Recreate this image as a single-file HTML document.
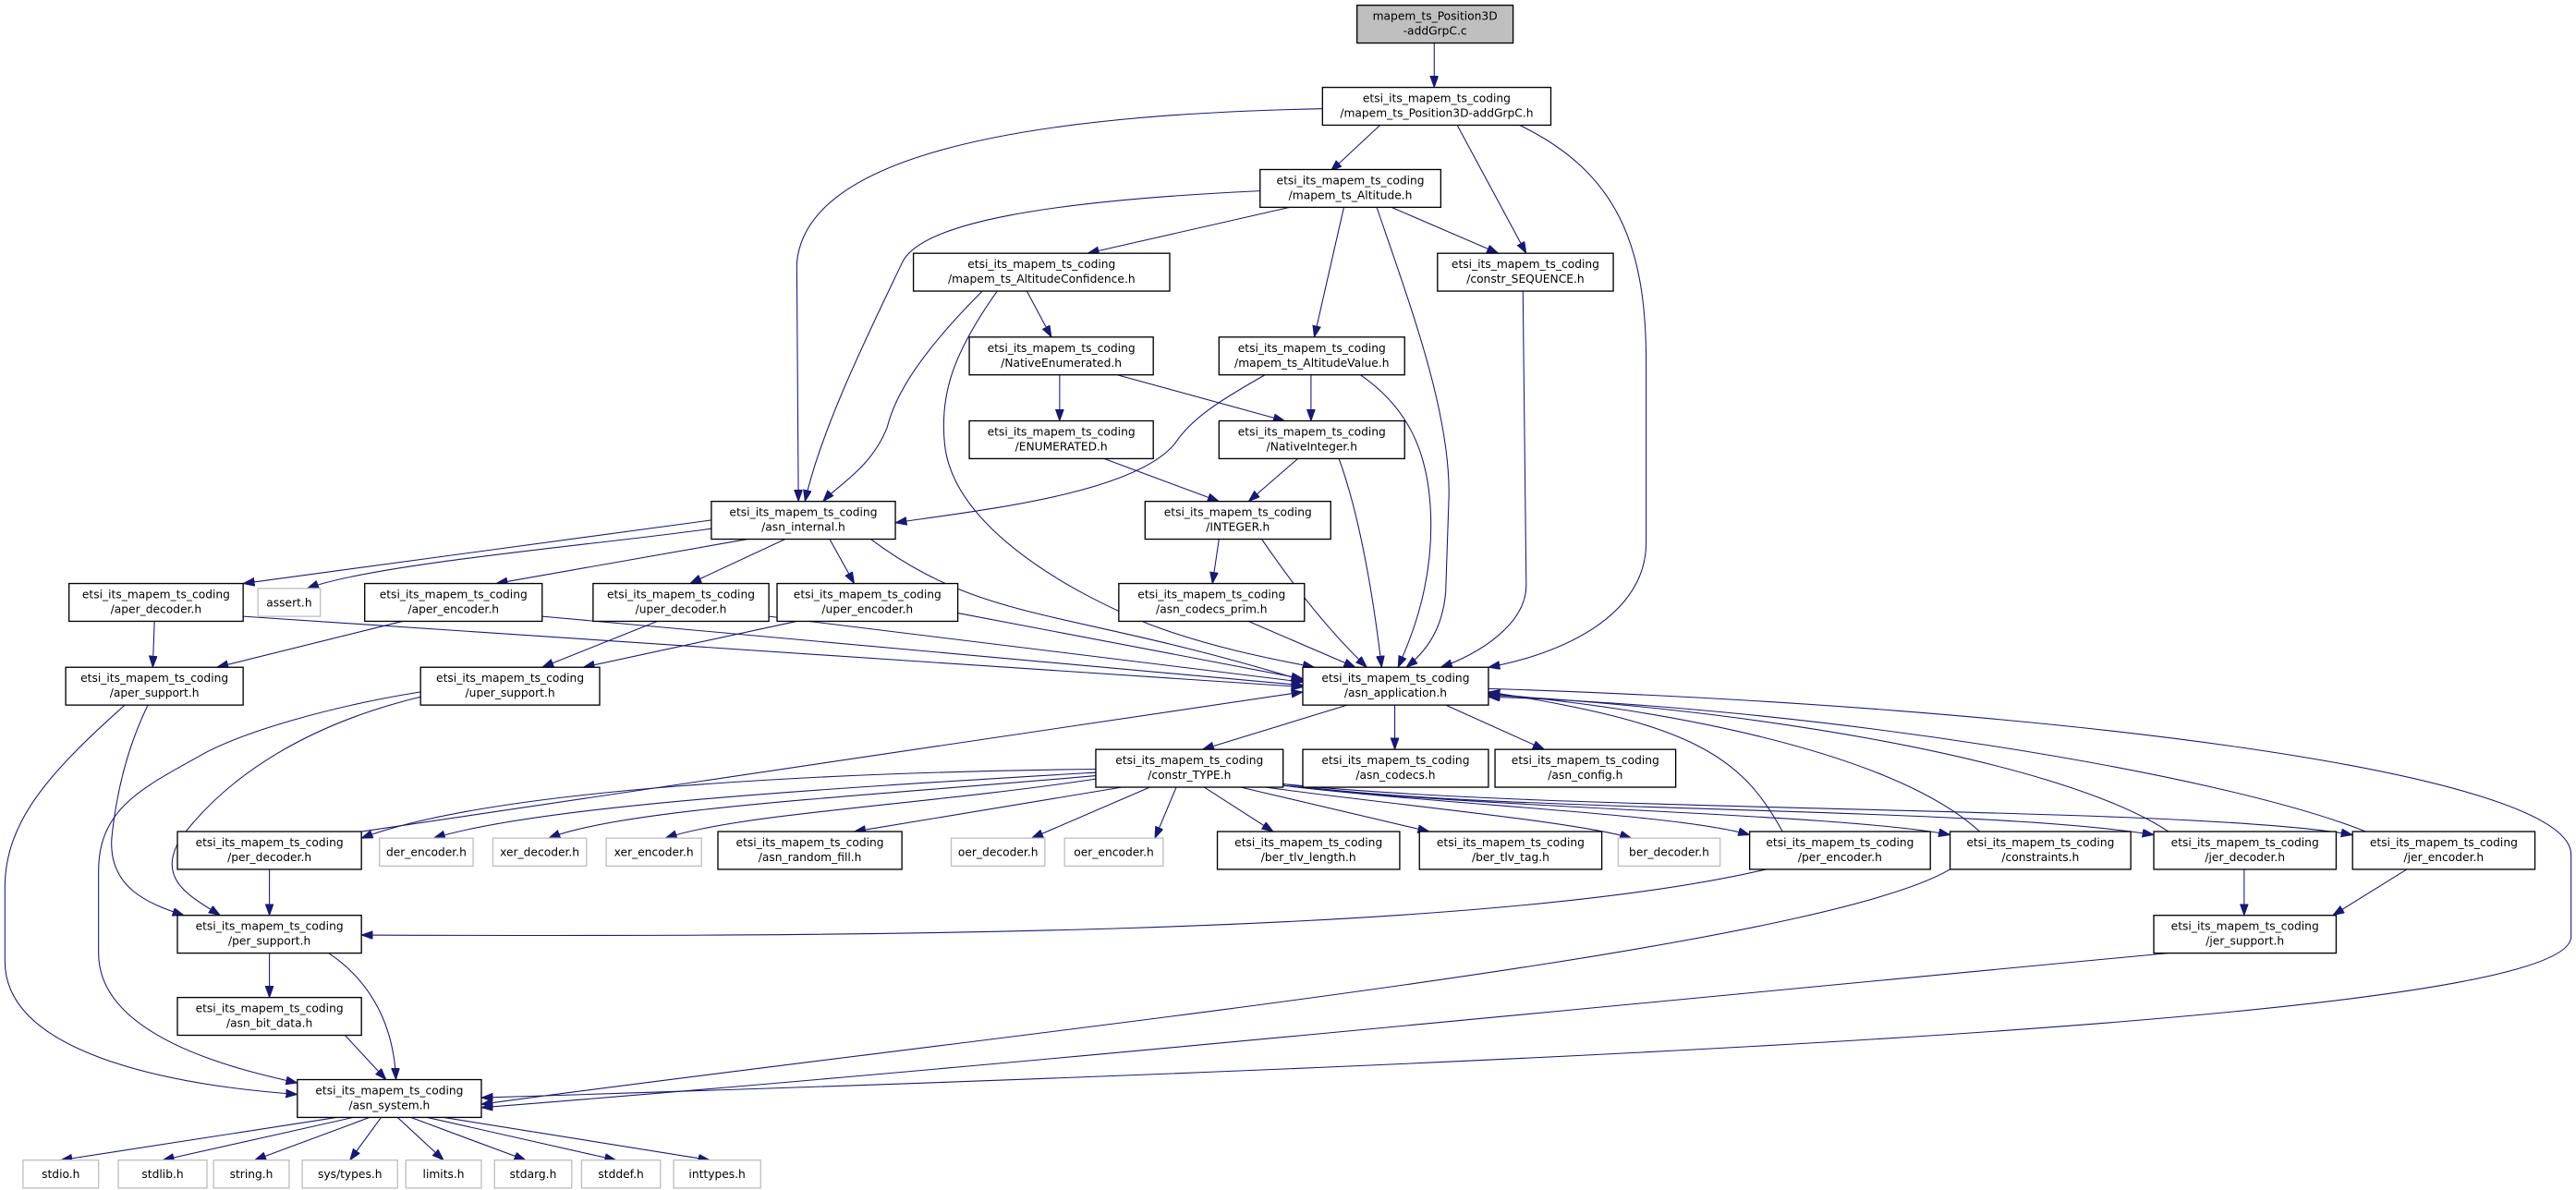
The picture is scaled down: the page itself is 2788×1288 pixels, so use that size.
<!DOCTYPE html>
<html><head><meta charset="utf-8"><style>
html,body{margin:0;padding:0;background:#fff;}
svg{display:block;}
text{font-family:"DejaVu Sans","Liberation Sans",sans-serif;font-size:6.9px;fill:#000;text-anchor:middle;}
.b{fill:#fff;stroke:#000;stroke-width:0.75;}
.g{fill:#fff;stroke:#bfbfbf;stroke-width:0.75;}
.t{fill:#bfbfbf;stroke:#000;stroke-width:0.75;}
path.e{fill:none;stroke:#191970;stroke-width:0.6;marker-end:url(#a);}
</style></head><body>
<svg width="2788" height="1288" viewBox="0 0 1568 724" xmlns="http://www.w3.org/2000/svg">
<defs><marker id="a" markerUnits="userSpaceOnUse" markerWidth="8" markerHeight="6" refX="7" refY="2.5" orient="auto"><path d="M0,0 L7,2.5 L0,5 z" fill="#191970" stroke="#191970" stroke-width="0.5"/></marker></defs>

<!-- edges -->
<path class="e" d="M873,26 L873,53"/>
<path class="e" d="M840,76 L810,104"/>
<path class="e" d="M805,66 C600,70 490,100 485,160 L486,305"/>
<path class="e" d="M887,76 L929,154"/>
<path class="e" d="M925,76 C985,105 1002,150 1002,220 L1002,330 C1002,375 950,398 906,406"/>
<path class="e" d="M767,116 C640,122 560,135 549,160 C530,200 500,260 490,305"/>
<path class="e" d="M785,126 L662,154"/>
<path class="e" d="M847,126 L912,154"/>
<path class="e" d="M818,126 L800,205"/>
<path class="e" d="M838,126 C860,190 882,250 882,300 L880,360 C878,385 866,398 856,406"/>
<path class="e" d="M598,177 C560,215 545,240 540,260 C530,285 510,295 501,305"/>
<path class="e" d="M625,177 L640,205"/>
<path class="e" d="M607,177 C580,215 572,240 575,270 C580,320 650,360 700,380 C740,395 780,402 800,406"/>
<path class="e" d="M927,177 L929,356 C929,380 900,398 877,406"/>
<path class="e" d="M645,228 L645,256"/>
<path class="e" d="M680,228 L782,256"/>
<path class="e" d="M770,228 C740,245 725,255 715,270 C690,300 600,310 545,318"/>
<path class="e" d="M798,228 L798,256"/>
<path class="e" d="M828,228 C860,250 871,280 871,320 C871,360 858,390 851,406"/>
<path class="e" d="M672,279 L742,305"/>
<path class="e" d="M790,279 L760,305"/>
<path class="e" d="M815,279 C830,320 838,380 841,406"/>
<path class="e" d="M742,328 L738,355"/>
<path class="e" d="M768,328 C790,360 810,385 832,406"/>
<path class="e" d="M760,378 L825,406"/>
<path class="e" d="M436,316 L148,355"/>
<path class="e" d="M444,320 C380,330 230,342 187,358"/>
<path class="e" d="M455,328 L302,355"/>
<path class="e" d="M478,328 L420,355"/>
<path class="e" d="M505,328 L520,355"/>
<path class="e" d="M530,328 C600,380 650,370 793,414"/>
<path class="e" d="M94,378 L93,406"/>
<path class="e" d="M148,375 L793,418"/>
<path class="e" d="M245,378 L132,406"/>
<path class="e" d="M330,375 L793,417"/>
<path class="e" d="M400,378 L330,406"/>
<path class="e" d="M468,375 L793,415"/>
<path class="e" d="M485,378 L355,406"/>
<path class="e" d="M583,373 L793,413"/>
<path class="e" d="M256,421 C200,430 150,445 125,458 C90,478 60,490 60,530 L60,580 C60,630 140,650 181,659"/>
<path class="e" d="M256,424 C190,440 140,470 110,510 C95,535 115,545 134,557"/>
<path class="e" d="M76,429 C30,470 3,500 3,540 L3,585 C3,640 100,660 181,666"/>
<path class="e" d="M90,429 C75,460 70,490 68,510 C66,540 90,550 112,557"/>
<path class="e" d="M820,429 L732,456"/>
<path class="e" d="M849,429 L849,456"/>
<path class="e" d="M880,429 L940,456"/>
<path class="e" d="M906,419 C1250,430 1565,470 1565,520 L1565,570 C1565,610 1200,640 293,668"/>
<path class="e" d="M220,506 L793,421"/>
<path class="e" d="M1085,506 C1060,460 1030,440 906,421"/>
<path class="e" d="M1205,506 C1150,455 1000,430 906,422"/>
<path class="e" d="M1320,506 C1250,460 1050,430 906,423"/>
<path class="e" d="M1440,506 C1350,470 1100,430 906,424"/>
<path class="e" d="M667,468 C500,470 300,480 220,510"/>
<path class="e" d="M667,470 C500,480 330,490 264,510"/>
<path class="e" d="M667,472 C520,485 380,492 334,510"/>
<path class="e" d="M667,474 C560,490 450,495 405,510"/>
<path class="e" d="M683,479 L520,506"/>
<path class="e" d="M700,479 L628,510"/>
<path class="e" d="M716,479 L703,510"/>
<path class="e" d="M733,479 L775,506"/>
<path class="e" d="M755,479 L870,506"/>
<path class="e" d="M770,479 C850,490 960,500 993,510"/>
<path class="e" d="M781,478 C880,490 1020,495 1065,508"/>
<path class="e" d="M781,478 C900,492 1120,495 1187,508"/>
<path class="e" d="M781,477 C900,495 1200,490 1311,508"/>
<path class="e" d="M781,477 C950,495 1330,490 1432,508"/>
<path class="e" d="M164,529 L164,557"/>
<path class="e" d="M1075,529 C900,570 500,570 220,569"/>
<path class="e" d="M1187,529 C1100,580 600,630 293,672"/>
<path class="e" d="M164,580 L164,607"/>
<path class="e" d="M200,580 C230,600 240,630 241,657"/>
<path class="e" d="M210,630 L235,657"/>
<path class="e" d="M1366,529 L1366,557"/>
<path class="e" d="M1465,529 L1420,557"/>
<path class="e" d="M1320,580 C1000,610 600,650 293,674"/>
<path class="e" d="M205,680 L37,706"/>
<path class="e" d="M215,680 L99,706"/>
<path class="e" d="M225,680 L155,706"/>
<path class="e" d="M232,680 L213,706"/>
<path class="e" d="M242,680 L270,706"/>
<path class="e" d="M250,680 L320,706"/>
<path class="e" d="M260,680 L375,706"/>
<path class="e" d="M270,680 L432,706"/>

<!-- nodes -->
<g>
<rect class="t" x="826" y="3" width="95" height="23"/><text x="873.5" y="12">mapem_ts_Position3D</text><text x="873.5" y="21">-addGrpC.c</text>
<rect class="b" x="805" y="53" width="139" height="23"/><text x="874.5" y="62">etsi_its_mapem_ts_coding</text><text x="874.5" y="71">/mapem_ts_Position3D-addGrpC.h</text>
<rect class="b" x="767" y="103" width="110" height="23"/><text x="822" y="112">etsi_its_mapem_ts_coding</text><text x="822" y="121">/mapem_ts_Altitude.h</text>
<rect class="b" x="556" y="154" width="156" height="23"/><text x="634" y="163">etsi_its_mapem_ts_coding</text><text x="634" y="172">/mapem_ts_AltitudeConfidence.h</text>
<rect class="b" x="875" y="154" width="107" height="23"/><text x="928.5" y="163">etsi_its_mapem_ts_coding</text><text x="928.5" y="172">/constr_SEQUENCE.h</text>
<rect class="b" x="590" y="205" width="112" height="23"/><text x="646" y="214">etsi_its_mapem_ts_coding</text><text x="646" y="223">/NativeEnumerated.h</text>
<rect class="b" x="742" y="205" width="113" height="23"/><text x="798.5" y="214">etsi_its_mapem_ts_coding</text><text x="798.5" y="223">/mapem_ts_AltitudeValue.h</text>
<rect class="b" x="590" y="256" width="112" height="23"/><text x="646" y="265">etsi_its_mapem_ts_coding</text><text x="646" y="274">/ENUMERATED.h</text>
<rect class="b" x="742" y="256" width="113" height="23"/><text x="798.5" y="265">etsi_its_mapem_ts_coding</text><text x="798.5" y="274">/NativeInteger.h</text>
<rect class="b" x="433" y="305" width="112" height="23"/><text x="489" y="314">etsi_its_mapem_ts_coding</text><text x="489" y="323">/asn_internal.h</text>
<rect class="b" x="697" y="305" width="113" height="23"/><text x="753.5" y="314">etsi_its_mapem_ts_coding</text><text x="753.5" y="323">/INTEGER.h</text>
<rect class="b" x="42" y="355" width="106" height="23"/><text x="95" y="364">etsi_its_mapem_ts_coding</text><text x="95" y="373">/aper_decoder.h</text>
<rect class="g" x="157" y="358" width="38" height="17"/><text x="176" y="369">assert.h</text>
<rect class="b" x="222" y="355" width="108" height="23"/><text x="276" y="364">etsi_its_mapem_ts_coding</text><text x="276" y="373">/aper_encoder.h</text>
<rect class="b" x="361" y="355" width="107" height="23"/><text x="414.5" y="364">etsi_its_mapem_ts_coding</text><text x="414.5" y="373">/uper_decoder.h</text>
<rect class="b" x="473" y="355" width="110" height="23"/><text x="528" y="364">etsi_its_mapem_ts_coding</text><text x="528" y="373">/uper_encoder.h</text>
<rect class="b" x="681" y="355" width="113" height="23"/><text x="737.5" y="364">etsi_its_mapem_ts_coding</text><text x="737.5" y="373">/asn_codecs_prim.h</text>
<rect class="b" x="40" y="406" width="108" height="23"/><text x="94" y="415">etsi_its_mapem_ts_coding</text><text x="94" y="424">/aper_support.h</text>
<rect class="b" x="256" y="406" width="109" height="23"/><text x="310.5" y="415">etsi_its_mapem_ts_coding</text><text x="310.5" y="424">/uper_support.h</text>
<rect class="b" x="793" y="406" width="113" height="23"/><text x="849.5" y="415">etsi_its_mapem_ts_coding</text><text x="849.5" y="424">/asn_application.h</text>
<rect class="b" x="667" y="456" width="114" height="23"/><text x="724" y="465">etsi_its_mapem_ts_coding</text><text x="724" y="474">/constr_TYPE.h</text>
<rect class="b" x="793" y="456" width="113" height="23"/><text x="849.5" y="465">etsi_its_mapem_ts_coding</text><text x="849.5" y="474">/asn_codecs.h</text>
<rect class="b" x="910" y="456" width="110" height="23"/><text x="965" y="465">etsi_its_mapem_ts_coding</text><text x="965" y="474">/asn_config.h</text>
<rect class="b" x="108" y="506" width="112" height="23"/><text x="164" y="515">etsi_its_mapem_ts_coding</text><text x="164" y="524">/per_decoder.h</text>
<rect class="g" x="231" y="510" width="57" height="17"/><text x="259.5" y="521">der_encoder.h</text>
<rect class="g" x="300" y="510" width="57" height="17"/><text x="328.5" y="521">xer_decoder.h</text>
<rect class="g" x="369" y="510" width="58" height="17"/><text x="398" y="521">xer_encoder.h</text>
<rect class="b" x="437" y="506" width="112" height="23"/><text x="493" y="515">etsi_its_mapem_ts_coding</text><text x="493" y="524">/asn_random_fill.h</text>
<rect class="g" x="579" y="510" width="57" height="17"/><text x="607.5" y="521">oer_decoder.h</text>
<rect class="g" x="648" y="510" width="60" height="17"/><text x="678" y="521">oer_encoder.h</text>
<rect class="b" x="741" y="506" width="111" height="23"/><text x="796.5" y="515">etsi_its_mapem_ts_coding</text><text x="796.5" y="524">/ber_tlv_length.h</text>
<rect class="b" x="864" y="506" width="111" height="23"/><text x="919.5" y="515">etsi_its_mapem_ts_coding</text><text x="919.5" y="524">/ber_tlv_tag.h</text>
<rect class="g" x="985" y="510" width="62" height="17"/><text x="1016" y="521">ber_decoder.h</text>
<rect class="b" x="1065" y="506" width="110" height="23"/><text x="1120" y="515">etsi_its_mapem_ts_coding</text><text x="1120" y="524">/per_encoder.h</text>
<rect class="b" x="1187" y="506" width="110" height="23"/><text x="1242" y="515">etsi_its_mapem_ts_coding</text><text x="1242" y="524">/constraints.h</text>
<rect class="b" x="1311" y="506" width="111" height="23"/><text x="1366.5" y="515">etsi_its_mapem_ts_coding</text><text x="1366.5" y="524">/jer_decoder.h</text>
<rect class="b" x="1432" y="506" width="111" height="23"/><text x="1487.5" y="515">etsi_its_mapem_ts_coding</text><text x="1487.5" y="524">/jer_encoder.h</text>
<rect class="b" x="108" y="557" width="112" height="23"/><text x="164" y="566">etsi_its_mapem_ts_coding</text><text x="164" y="575">/per_support.h</text>
<rect class="b" x="1311" y="557" width="111" height="23"/><text x="1366.5" y="566">etsi_its_mapem_ts_coding</text><text x="1366.5" y="575">/jer_support.h</text>
<rect class="b" x="108" y="607" width="112" height="23"/><text x="164" y="616">etsi_its_mapem_ts_coding</text><text x="164" y="625">/asn_bit_data.h</text>
<rect class="b" x="181" y="657" width="112" height="23"/><text x="237" y="666">etsi_its_mapem_ts_coding</text><text x="237" y="675">/asn_system.h</text>
<rect class="g" x="14" y="706" width="46" height="17"/><text x="37" y="717">stdio.h</text>
<rect class="g" x="72" y="706" width="54" height="17"/><text x="99" y="717">stdlib.h</text>
<rect class="g" x="130" y="706" width="46" height="17"/><text x="153" y="717">string.h</text>
<rect class="g" x="184" y="706" width="58" height="17"/><text x="213" y="717">sys/types.h</text>
<rect class="g" x="247" y="706" width="46" height="17"/><text x="270" y="717">limits.h</text>
<rect class="g" x="301" y="706" width="47" height="17"/><text x="324.5" y="717">stdarg.h</text>
<rect class="g" x="354" y="706" width="48" height="17"/><text x="378" y="717">stddef.h</text>
<rect class="g" x="410" y="706" width="53" height="17"/><text x="436.5" y="717">inttypes.h</text>
</g>
</svg>
</body></html>
